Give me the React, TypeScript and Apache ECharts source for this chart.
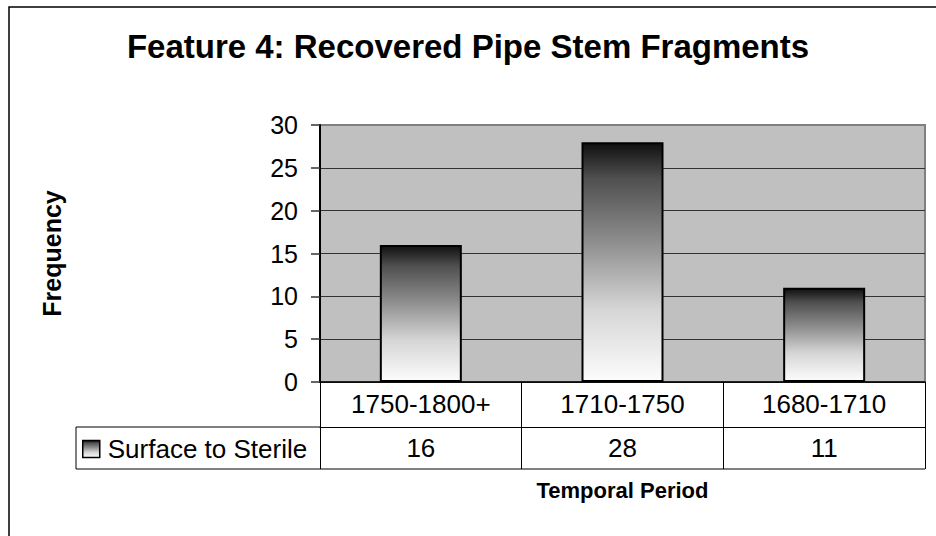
import React, { useEffect, useRef } from "react";
import * as echarts from "echarts";

const chartTitle = "Feature 4: Recovered Pipe Stem Fragments";
const yTitle = "Frequency";
const xTitle = "Temporal Period";
const categories = ["1750-1800+", "1710-1750", "1680-1710"];
const seriesName = "Surface to Sterile";
const values = [16, 28, 11];
const yMin = 0;
const yMax = 30;
const yInterval = 5;

const FONT = "'Liberation Sans', Arial, sans-serif";

export default function App() {
  const ref = useRef<HTMLDivElement>(null);
  useEffect(() => {
    const chart = echarts.init(ref.current!, null, { renderer: "svg" });
    const grad = new echarts.graphic.LinearGradient(0, 0, 0, 1, [
      { offset: 0, color: "#101010" },
      { offset: 0.15, color: "#505050" },
      { offset: 0.4, color: "#8a8a8a" },
      { offset: 0.7, color: "#d6d6d6" },
      { offset: 1, color: "#fcfcfc" },
    ]);
    chart.setOption({
      animation: false,
      textStyle: { fontFamily: FONT },
      grid: {
        left: 320,
        top: 125,
        right: 11,
        bottom: 154,
        show: true,
        backgroundColor: "#c0c0c0",
        borderColor: "#808080",
        borderWidth: 2,
      },
      legend: {
        show: true,
        data: [seriesName],
        left: 82,
        top: 436,
        padding: 0,
        itemWidth: 17,
        itemHeight: 17,
        icon: "rect",
        selectedMode: false,
        itemStyle: { borderColor: "#000", borderWidth: 1.5 },
        textStyle: { fontSize: 26, color: "#000", fontFamily: FONT, padding: [0, 0, 0, 3] },
      },
      xAxis: [
        {
          type: "category",
          data: categories,
          position: "bottom",
          axisLine: { lineStyle: { color: "#000", width: 1.5 } },
          axisTick: { show: true, length: 87, lineStyle: { color: "#000", width: 1 } },
          axisLabel: { fontSize: 26, color: "#000", margin: 9, fontFamily: FONT },
          name: xTitle,
          nameLocation: "middle",
          nameGap: 97,
          nameTextStyle: { fontSize: 22, fontWeight: "bold", color: "#000", fontFamily: FONT },
        },
        {
          type: "category",
          data: values.map(String),
          position: "bottom",
          offset: 45,
          axisLine: { lineStyle: { color: "#000", width: 1 } },
          axisTick: { show: false },
          axisLabel: { fontSize: 26, color: "#000", margin: 8, fontFamily: FONT },
        },
      ],
      yAxis: {
        type: "value",
        min: yMin,
        max: yMax,
        interval: yInterval,
        axisLine: { show: true, lineStyle: { color: "#000", width: 2 } },
        axisTick: { show: true, length: 9, lineStyle: { color: "#333", width: 1.5 } },
        axisLabel: { fontSize: 25, color: "#000", margin: 22, fontFamily: FONT },
        splitLine: { show: true, showMaxLine: false, lineStyle: { color: "#333", width: 1 } },
        name: yTitle,
        nameLocation: "middle",
        nameGap: 256,
        nameRotate: 90,
        nameTextStyle: { fontSize: 25, fontWeight: "bold", color: "#000", fontFamily: FONT },
      },
      series: [
        {
          type: "bar",
          name: seriesName,
          data: values,
          barWidth: 82,
          itemStyle: { color: grad, borderColor: "#000", borderWidth: 2 },
        },
      ],
      graphic: [
        {
          type: "rect",
          silent: true,
          z: 100,
          shape: { x: 9, y: 7, width: 1000, height: 1000 },
          style: { fill: "none", stroke: "#000", lineWidth: 1.5 },
        },
        {
          type: "text",
          x: 468,
          y: 30,
          style: {
            text: chartTitle,
            fontSize: 33,
            fontWeight: "bold",
            fontFamily: FONT,
            fill: "#000",
            align: "center",
            textAlign: "center",
            verticalAlign: "top",
            textVerticalAlign: "top",
          },
        },
        {
          type: "line",
          shape: { x1: 76, y1: 427, x2: 320, y2: 427 },
          style: { stroke: "#000", lineWidth: 1 },
        },
        {
          type: "line",
          shape: { x1: 76, y1: 469, x2: 925, y2: 469 },
          style: { stroke: "#000", lineWidth: 1 },
        },
        {
          type: "line",
          shape: { x1: 76, y1: 427, x2: 76, y2: 469 },
          style: { stroke: "#000", lineWidth: 1 },
        },
      ],
    });
    return () => chart.dispose();
  }, []);
  return (
    <div
      ref={ref}
      style={{ position: "absolute", left: 0, top: 0, width: 936, height: 536, background: "#fff" }}
    />
  );
}
